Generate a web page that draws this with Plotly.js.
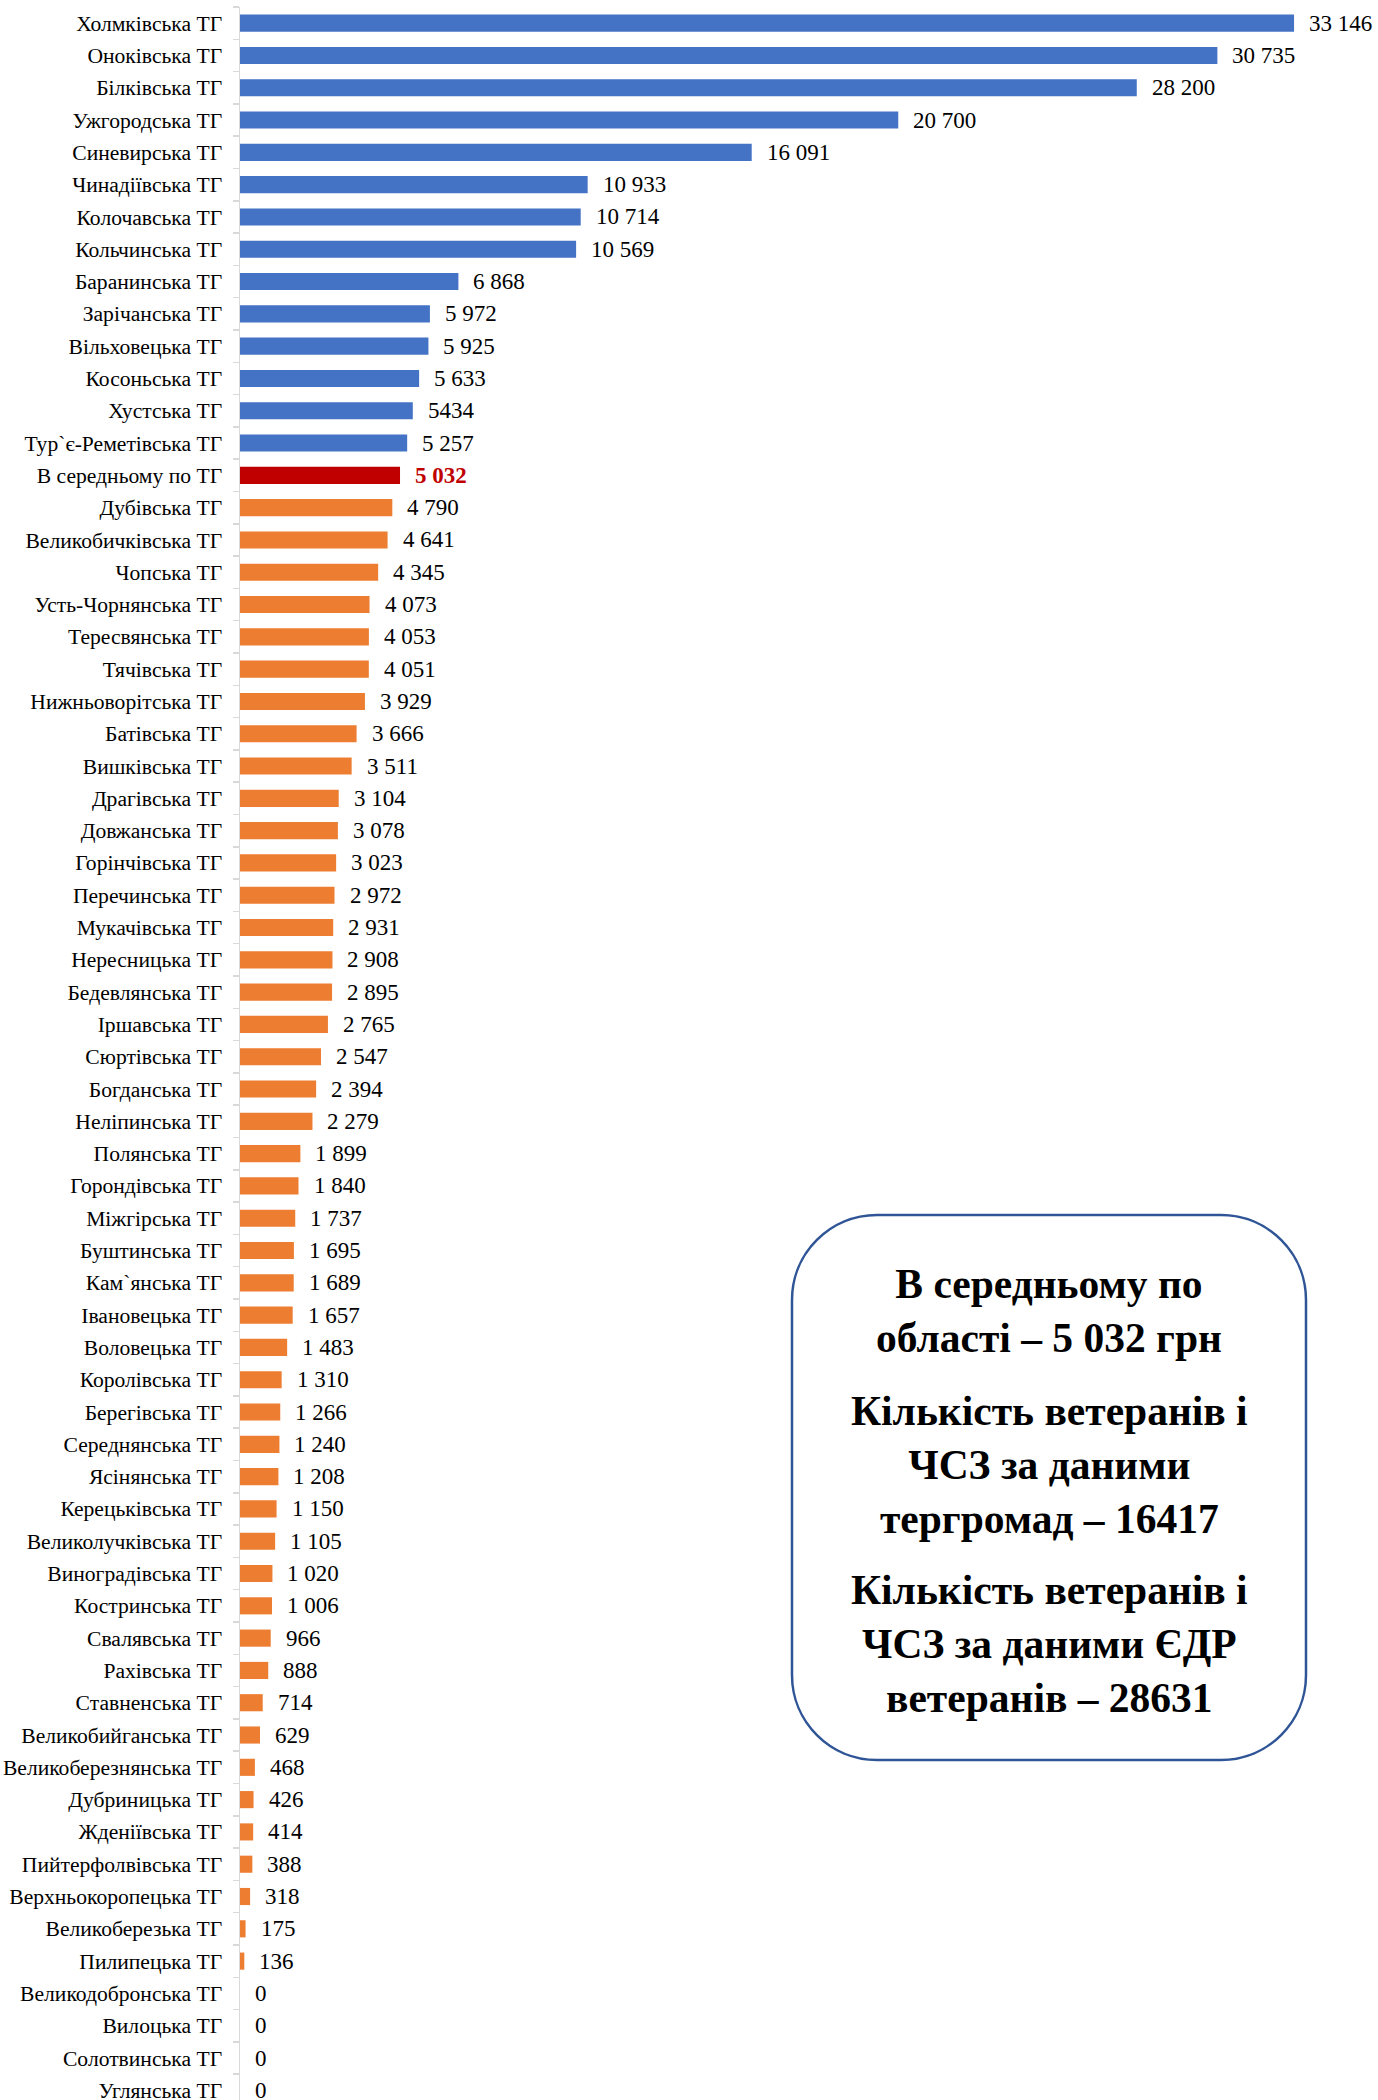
<!DOCTYPE html>
<html>
<head>
<meta charset="utf-8">
<script src="https://cdn.plot.ly/plotly-3.0.1.min.js"></script>
<style>html,body{margin:0;padding:0;background:#fff;}#chart{width:1378px;height:2100px;}</style>
</head>
<body>
<div id="chart"></div>
<script>
const categories = [
  "Холмківська ТГ","Оноківська ТГ","Білківська ТГ","Ужгородська ТГ","Синевирська ТГ",
  "Чинадіївська ТГ","Колочавська ТГ","Кольчинська ТГ","Баранинська ТГ","Зарічанська ТГ",
  "Вільховецька ТГ","Косоньська ТГ","Хустська ТГ","Тур`є-Реметівська ТГ","В середньому по ТГ",
  "Дубівська ТГ","Великобичківська ТГ","Чопська ТГ","Усть-Чорнянська ТГ","Тересвянська ТГ",
  "Тячівська ТГ","Нижньоворітська ТГ","Батівська ТГ","Вишківська ТГ","Драгівська ТГ",
  "Довжанська ТГ","Горінчівська ТГ","Перечинська ТГ","Мукачівська ТГ","Нересницька ТГ",
  "Бедевлянська ТГ","Іршавська ТГ","Сюртівська ТГ","Богданська ТГ","Неліпинська ТГ",
  "Полянська ТГ","Горондівська ТГ","Міжгірська ТГ","Буштинська ТГ","Кам`янська ТГ",
  "Івановецька ТГ","Воловецька ТГ","Королівська ТГ","Берегівська ТГ","Середнянська ТГ",
  "Ясінянська ТГ","Керецьківська ТГ","Великолучківська ТГ","Виноградівська ТГ","Костринська ТГ",
  "Свалявська ТГ","Рахівська ТГ","Ставненська ТГ","Великобийганська ТГ","Великоберезнянська ТГ",
  "Дубриницька ТГ","Жденіївська ТГ","Пийтерфолвівська ТГ","Верхньокоропецька ТГ","Великоберезька ТГ",
  "Пилипецька ТГ","Великодобронська ТГ","Вилоцька ТГ","Солотвинська ТГ","Углянська ТГ"
];
const values = [
  33146,30735,28200,20700,16091,
  10933,10714,10569,6868,5972,
  5925,5633,5434,5257,5032,
  4790,4641,4345,4073,4053,
  4051,3929,3666,3511,3104,
  3078,3023,2972,2931,2908,
  2895,2765,2547,2394,2279,
  1899,1840,1737,1695,1689,
  1657,1483,1310,1266,1240,
  1208,1150,1105,1020,1006,
  966,888,714,629,468,
  426,414,388,318,175,
  136,0,0,0,0
];
const averageCategory = "В середньому по ТГ";
const noSeparatorCategories = ["Хустська ТГ"];
const boxParagraphs = [
  "В середньому по<br>області – 5 032 грн",
  "Кількість ветеранів і<br>ЧСЗ за даними<br>тергромад – 16417",
  "Кількість ветеранів і<br>ЧСЗ за даними ЄДР<br>ветеранів – 28631"
];

const BLUE = "#4472C4", ORANGE = "#ED7D31", RED = "#C00000";
const avgValue = values[categories.indexOf(averageCategory)];
const colors = categories.map((c, i) => c === averageCategory ? RED : (values[i] > avgValue ? BLUE : ORANGE));

function fmt(v, cat) {
  if (noSeparatorCategories.includes(cat)) return String(v);
  return String(v).replace(/\B(?=(\d{3})+(?!\d))/g, " ");
}

const W = 1378, H = 2100, ML = 240, MT = 7;
const plotW = W - ML, plotH = H - MT;
const FONT = "Liberation Serif, Times New Roman, serif";

const trace = {
  type: "bar", orientation: "h",
  x: values, y: categories,
  marker: {color: colors},
  hoverinfo: "x+y"
};

const annotations = categories.map((c, i) => ({
  x: values[i], y: c, xref: "x", yref: "y",
  text: c === averageCategory ? "<b>" + fmt(values[i], c) + "</b>" : fmt(values[i], c),
  showarrow: false, xanchor: "left", yanchor: "middle", xshift: 13,
  font: {family: FONT, size: 23, color: c === averageCategory ? RED : "#000"}
}));

// info box (pixel geometry converted to paper coords)
const bx0 = 792, bx1 = 1306, by0 = 1215, by1 = 1760, rad = 85, k = 0.5523;
const px = p => (p - ML) / plotW;
const py = p => (H - p) / plotH;
const P = (x, y) => px(x).toFixed(5) + "," + py(y).toFixed(5);
const path = [
  "M" + P(bx0 + rad, by0),
  "L" + P(bx1 - rad, by0),
  "C" + P(bx1 - rad + rad * k, by0) + " " + P(bx1, by0 + rad - rad * k) + " " + P(bx1, by0 + rad),
  "L" + P(bx1, by1 - rad),
  "C" + P(bx1, by1 - rad + rad * k) + " " + P(bx1 - rad + rad * k, by1) + " " + P(bx1 - rad, by1),
  "L" + P(bx0 + rad, by1),
  "C" + P(bx0 + rad - rad * k, by1) + " " + P(bx0, by1 - rad + rad * k) + " " + P(bx0, by1 - rad),
  "L" + P(bx0, by0 + rad),
  "C" + P(bx0, by0 + rad - rad * k) + " " + P(bx0 + rad - rad * k, by0) + " " + P(bx0 + rad, by0),
  "Z"
].join(" ");

const boxCenterX = (bx0 + bx1) / 2;
const paraY = [1311, 1465, 1644];
boxParagraphs.forEach((t, i) => {
  annotations.push({
    xref: "paper", yref: "paper", x: px(boxCenterX), y: py(paraY[i]),
    xanchor: "center", yanchor: "middle", showarrow: false, align: "center",
    text: "<b>" + t + "</b>",
    font: {family: FONT, size: 41.5, color: "#000"}
  });
});

const layout = {
  width: W, height: H,
  margin: {l: ML, r: 0, t: MT, b: 0, pad: 0},
  paper_bgcolor: "#fff", plot_bgcolor: "#fff",
  showlegend: false,
  bargap: 0.47,
  xaxis: {range: [0, 35786], visible: false, fixedrange: true},
  yaxis: {
    type: "category",
    range: [categories.length - 0.7, -0.5],
    showline: true, linecolor: "#d9d9d9", linewidth: 1.5,
    ticks: "outside", tickson: "boundaries", ticklen: 6, tickcolor: "#d9d9d9", tickwidth: 1.5,
    ticklabelstandoff: 12,
    showgrid: false, zeroline: false,
    tickfont: {family: FONT, size: 21.6, color: "#000"},
    automargin: false, fixedrange: true
  },
  shapes: [{
    type: "path", xref: "paper", yref: "paper", path: path,
    line: {color: "#2F5597", width: 2.5}, fillcolor: "rgba(255,255,255,1)", layer: "above"
  }],
  annotations: annotations
};

Plotly.newPlot("chart", [trace], layout, {displayModeBar: false, staticPlot: true});
</script>
</body>
</html>
